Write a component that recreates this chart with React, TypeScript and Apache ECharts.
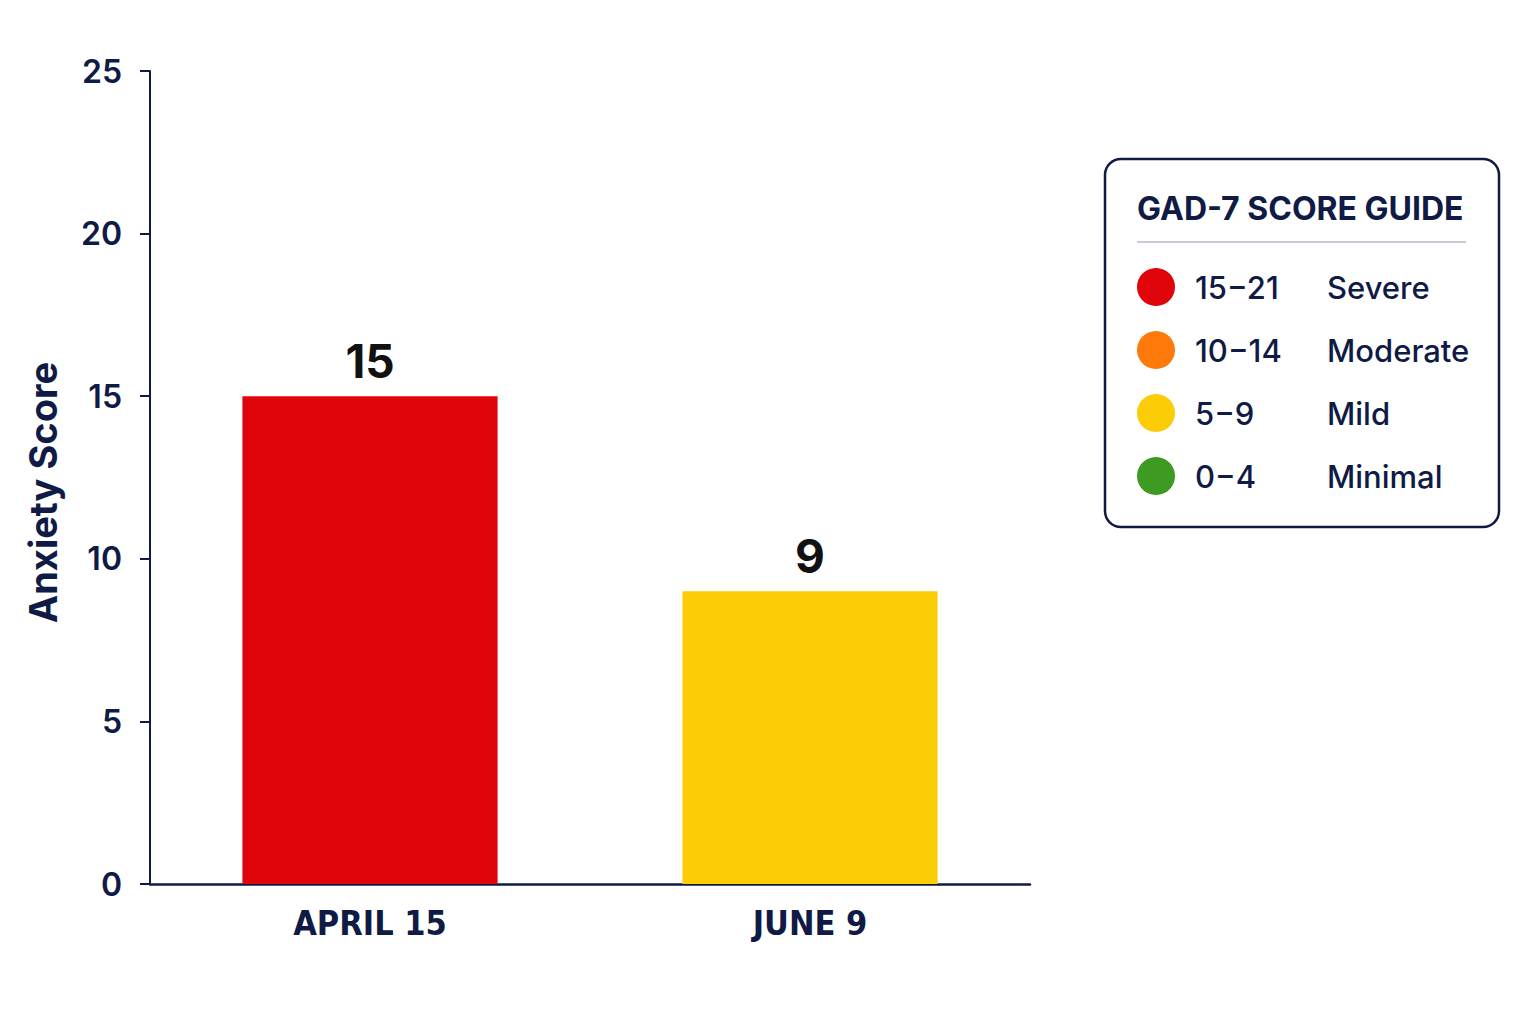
import React, { useEffect, useRef } from "react";
import * as echarts from "echarts";

const categories = ["APRIL 15", "JUNE 9"];
const scores = [15, 9];
const barColors = ["#e0040b", "#fccc07"];
const yTicks = [0, 5, 10, 15, 20, 25];

const guideTitle = "GAD-7 SCORE GUIDE";
const guideRanges = ["15\u221221", "10\u221214", "5\u22129", "0\u22124"];
const guideLabels = ["Severe", "Moderate", "Mild", "Minimal"];
const guideColors = ["#e0040b", "#ff7a0a", "#fccc07", "#3f9a23"];

const NAVY = "#0f1a45";
const FONT = "Inter, 'Noto Sans', sans-serif";
const COND = "'Liberation Sans Narrow', 'DejaVu Sans Condensed', Roboto, sans-serif";

export default function App() {
  const ref = useRef<HTMLDivElement>(null);
  useEffect(() => {
    document.body.style.margin = "0";
    const chart = echarts.init(ref.current!, null, { renderer: "svg" });
    const legendEls: any[] = [
      {
        type: "rect",
        shape: { x: 1105, y: 159, width: 394, height: 368, r: 16 },
        style: { fill: "#ffffff", stroke: NAVY, lineWidth: 2.5 },
      },
      {
        type: "text",
        x: 1137,
        y: 208,
        style: {
          text: guideTitle,
          fill: NAVY,
          font: `bold 32px ${FONT}`,
          verticalAlign: "middle",
        },
      },
      {
        type: "line",
        shape: { x1: 1137, y1: 242, x2: 1466, y2: 242 },
        style: { stroke: "#c8cad8", lineWidth: 2 },
      },
    ];
    guideRanges.forEach((r, i) => {
      const cy = 287 + i * 63;
      legendEls.push({
        type: "circle",
        shape: { cx: 1156, cy, r: 19 },
        style: { fill: guideColors[i] },
      });
      legendEls.push({
        type: "text",
        x: 1195,
        y: cy,
        style: { text: r, fill: NAVY, font: `500 31px ${FONT}`, verticalAlign: "middle" },
      });
      legendEls.push({
        type: "text",
        x: 1327,
        y: cy,
        style: { text: guideLabels[i], fill: NAVY, font: `500 31px ${FONT}`, verticalAlign: "middle" },
      });
    });

    chart.setOption({
      animation: false,
      backgroundColor: "#ffffff",
      grid: { left: 150, right: 506, top: 71, bottom: 140, containLabel: false },
      xAxis: {
        type: "category",
        data: categories,
        axisLine: { show: true, lineStyle: { color: NAVY, width: 2.5 } },
        axisTick: { show: false },
        axisLabel: {
          color: NAVY,
          fontFamily: COND,
          fontWeight: "bold",
          fontSize: 34,
          margin: 22,
        },
      },
      yAxis: {
        type: "value",
        min: yTicks[0],
        max: yTicks[yTicks.length - 1],
        interval: 5,
        name: "Anxiety Score",
        nameLocation: "middle",
        nameGap: 88,
        nameTextStyle: {
          color: NAVY,
          fontFamily: FONT,
          fontWeight: "bold",
          fontSize: 38,
          padding: [0, 30, 0, 0],
        },
        axisLine: { show: true, lineStyle: { color: NAVY, width: 2 } },
        axisTick: { show: true, length: 10, lineStyle: { color: NAVY, width: 2 } },
        splitLine: { show: false },
        axisLabel: { color: NAVY, fontFamily: FONT, fontWeight: 600, fontSize: 32, margin: 28 },
      },
      series: [
        {
          type: "bar",
          barWidth: "58%",
          data: scores.map((v, i) => ({ value: v, itemStyle: { color: barColors[i] } })),
          label: {
            show: true,
            position: "top",
            distance: 12,
            color: "#111111",
            fontFamily: FONT,
            fontWeight: "bold",
            fontSize: 46,
          },
        },
      ],
      graphic: legendEls,
    });
    return () => chart.dispose();
  }, []);
  return <div ref={ref} style={{ width: 1536, height: 1024 }} />;
}
